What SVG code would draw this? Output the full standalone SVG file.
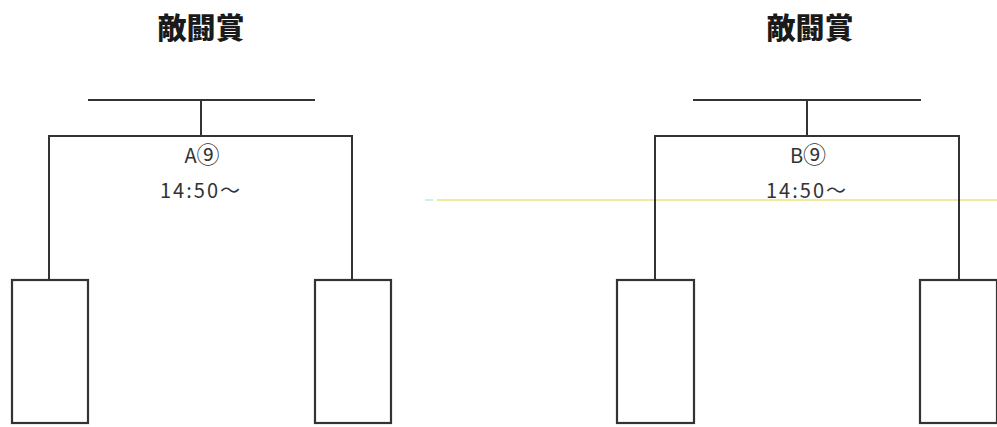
<svg xmlns="http://www.w3.org/2000/svg" width="997" height="427" viewBox="0 0 997 427">
<style>
.ln{stroke:#333;stroke-width:2;fill:none}
.bx{stroke:#333;stroke-width:2.2;fill:#fff}
.tt{font-family:"Noto Sans CJK JP","Noto Sans CJK SC",sans-serif;font-weight:900;font-size:29px;fill:#1a1a1a;text-anchor:middle}
.lb{font-family:"Noto Sans CJK JP","Liberation Sans",sans-serif;font-size:20px;fill:#333;text-anchor:middle}
</style>
<rect width="997" height="427" fill="#fff"/>
<line x1="437" y1="200" x2="997" y2="200" stroke="#e8e47a" stroke-width="1.5"/>
<line x1="425" y1="200" x2="433" y2="200" stroke="#bfe8ee" stroke-width="1.5"/>
<g id="connectors">
<path class="ln" d="M88 100H315M201 100V136M49 280V136H352V280"/>
<path class="ln" d="M693 100H921M807 100V136M655 280V136H959V280"/>
</g>
<g id="title-a"><text class="tt" x="201" y="39">敵闘賞</text></g>
<g id="match-a"><text class="lb" x="202" y="163" font-size="21">A<tspan font-size="23">⑨</tspan></text><text class="lb" x="201" y="198" letter-spacing="2">14:50〜</text></g>
<g id="box-a1"><rect class="bx" x="12" y="280" width="76" height="143"/></g>
<g id="box-a2"><rect class="bx" x="315" y="280" width="76" height="143"/></g>
<g id="title-b"><text class="tt" x="810" y="39">敵闘賞</text></g>
<g id="match-b"><text class="lb" x="808" y="163" font-size="21">B<tspan font-size="23">⑨</tspan></text><text class="lb" x="807" y="198" letter-spacing="2">14:50〜</text></g>
<g id="box-b1"><rect class="bx" x="617" y="280" width="77" height="143"/></g>
<g id="box-b2"><rect class="bx" x="920" y="280" width="77" height="143"/></g>
</svg>
